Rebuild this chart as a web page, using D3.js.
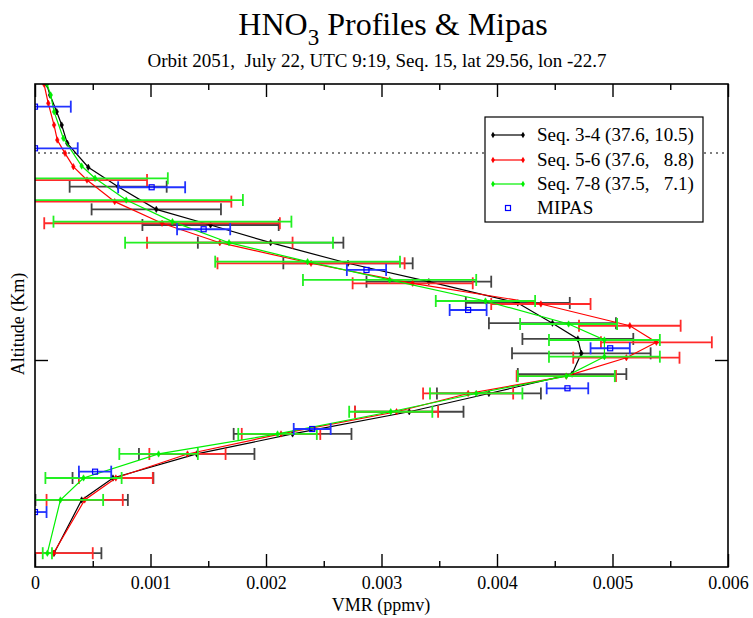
<!DOCTYPE html>
<html><head><meta charset="utf-8">
<script src="https://cdn.jsdelivr.net/npm/d3@7"></script>
<style>
body{margin:0;background:#fff;}
svg text{font-family:"Liberation Serif","Times New Roman",serif;fill:#000;}
</style></head>
<body><svg id="c" width="753" height="618"></svg>
<script>
// ---- data ----
const altBlack = [7.2, 11.83, 13.74, 15.83, 17.57, 19.5, 21.09, 22.78, 24.58, 25.83, 27.2, 28.96, 30.81, 32.41, 34.2, 35.74, 37.1, 39.07, 40.76, 42.84, 44.43, 45.59, 47.04, 48.0];
const vmrBlack = [0.000165, 0.000404, 0.000675, 0.0014, 0.00223, 0.00324, 0.00393, 0.00465, 0.00473, 0.0047, 0.00448, 0.00418, 0.00341, 0.00271, 0.00204, 0.00152, 0.00105, 0.00072, 0.000461, 0.00028, 0.000231, 0.000188, 0.00013, 0.0001];
const errBlack = [0.00041, 0.0004, 0.00035, 0.0005, 0.00051, 0.00047, 0.00045, 0.00047, 0.0006, 0.00048, 0.00055, 0.00045, 0.00054, 0.00056, 0.00063, 0.00059, 0.00056, 0.00042, 0, 0, 0, 0, 0, 0];

const altRed = [7.2, 11.83, 13.74, 15.83, 17.57, 19.5, 21.09, 22.6, 24.2, 25.54, 26.98, 28.87, 30.67, 32.41, 34.2, 35.89, 37.77, 39.65, 40.81, 41.97, 43.13, 44.43, 46.32, 48.0];
const vmrRed = [0.00016, 0.00043, 0.0007, 0.00132, 0.00213, 0.00313, 0.00375, 0.0046, 0.00512, 0.00538, 0.00515, 0.00438, 0.00327, 0.00239, 0.0016, 0.0011, 0.00069, 0.00045, 0.000332, 0.00026, 0.000193, 0.000165, 0.000115, 0.000078];
const errRed = [0.00034, 0.00033, 0.00032, 0.00033, 0.00034, 0.00036, 0.00039, 0.00043, 0.00046, 0.00048, 0.00044, 0.00043, 0.00052, 0.00081, 0.00063, 0.00102, 0.00101, 0.00052, 0, 0, 0, 0, 0, 0];

const altGreen = [7.2, 11.83, 13.74, 15.83, 17.57, 19.5, 21.09, 22.6, 24.29, 25.74, 27.13, 29.13, 30.96, 32.55, 34.2, 36.03, 37.91, 39.8, 40.87, 43.28, 45.59, 47.04, 48.0];
const vmrGreen = [0.000107, 0.00022, 0.00042, 0.00107, 0.0021, 0.00308, 0.00382, 0.0046, 0.00493, 0.00493, 0.00462, 0.0039, 0.00307, 0.00236, 0.00168, 0.00119, 0.00079, 0.00052, 0.000404, 0.000245, 0.000165, 0.000136, 0.000104];
const errGreen = [0.00004, 0.00037, 0.00033, 0.00034, 0.00034, 0.00036, 0.0004, 0.00042, 0.00048, 0.00048, 0.00042, 0.00043, 0.00075, 0.0008, 0.0009, 0.00103, 0.00101, 0.00063, 0, 0, 0, 0, 0];

const altMipas = [10.78, 14.29, 18.0, 21.54, 25.02, 28.35, 31.83, 35.37, 39.02, 42.41, 46.03];
const vmrMipas = [0.0, 0.00052, 0.0024, 0.00461, 0.00498, 0.00375, 0.00287, 0.00146, 0.00101, 0.0, 0.0];
const errMipas = [0.0001, 0.00014, 0.00016, 0.00018, 0.00017, 0.00016, 0.00017, 0.00023, 0.00029, 0.00037, 0.00031];

const seriesNames = ["Seq. 3-4 (37.6, 10.5)", "Seq. 5-6 (37.6,   8.8)", "Seq. 7-8 (37.5,   7.1)", "MIPAS"];
const xMajorTicks = [0, 0.001, 0.002, 0.003, 0.004, 0.005, 0.006];
const xTickLabels = ["0", "0.001", "0.002", "0.003", "0.004", "0.005", "0.006"];
const xMinorTicks = [0.0005, 0.0015, 0.0025, 0.0035, 0.0045, 0.0055];
const yMajorTicks = [24];
const dottedAlt = 42;
const xDomain = [0, 0.006];
const yDomain = [6, 48];

// ---- layout ----
const W = 753, H = 618;
const m = {l: 35, r: 25, t: 84, b: 51};
const pw = W - m.l - m.r, ph = H - m.t - m.b;
const svg = d3.select("#c");
const x = d3.scaleLinear().domain(xDomain).range([m.l, m.l + pw]);
const y = d3.scaleLinear().domain(yDomain).range([m.t + ph, m.t]);

svg.append("defs").append("clipPath").attr("id", "clip")
  .append("rect").attr("x", m.l).attr("y", m.t).attr("width", pw).attr("height", ph);

// title
const title = svg.append("text").attr("x", 393).attr("y", 35).attr("text-anchor", "middle").style("font-size", "32px");
title.append("tspan").text("HNO");
title.append("tspan").attr("dy", 10).style("font-size", "23px").text("3");
title.append("tspan").attr("dy", -10).text(" Profiles & Mipas");
svg.append("text").attr("x", 377).attr("y", 67).attr("text-anchor", "middle").style("font-size", "19px")
  .attr("xml:space", "preserve").style("white-space", "pre")
  .text("Orbit 2051,  July 22, UTC 9:19, Seq. 15, lat 29.56, lon -22.7");

const plot = svg.append("g").attr("clip-path", "url(#clip)");

// dotted line
plot.append("line").attr("x1", x(0) + 3).attr("x2", x(0.006)).attr("y1", y(dottedAlt)).attr("y2", y(dottedAlt))
  .attr("stroke", "#000").attr("stroke-width", 1.2).attr("stroke-dasharray", "2,4");

function drawSeries(alts, vals, errs, color, barColor, withLine) {
  const pts = alts.map((a, i) => ({a, v: vals[i], e: errs[i]}));
  const g = plot.append("g");
  const eb = pts.filter(d => d.e > 0);
  g.selectAll("line.eb").data(eb).join("line")
    .attr("x1", d => x(d.v - d.e)).attr("x2", d => x(d.v + d.e))
    .attr("y1", d => y(d.a)).attr("y2", d => y(d.a))
    .attr("stroke", barColor).attr("stroke-width", 1.8);
  [-1, 1].forEach(s => {
    g.selectAll("line.cap" + (s > 0 ? "p" : "m")).data(eb).join("line")
      .attr("x1", d => x(d.v + s * d.e)).attr("x2", d => x(d.v + s * d.e))
      .attr("y1", d => y(d.a) - 6).attr("y2", d => y(d.a) + 6)
      .attr("stroke", barColor).attr("stroke-width", 1.8);
  });
  if (withLine) {
    g.append("path").datum(pts)
      .attr("d", d3.line().x(d => x(d.v)).y(d => y(d.a)))
      .attr("fill", "none").attr("stroke", color).attr("stroke-width", 1.2);
    g.selectAll("path.mk").data(pts).join("path")
      .attr("transform", d => `translate(${x(d.v)},${y(d.a)})`)
      .attr("d", d3.symbol().type(d3.symbolDiamond).size(12))
      .attr("fill", color).attr("stroke", color).attr("stroke-width", 0.5);
  } else {
    g.selectAll("rect.mk").data(pts).join("rect")
      .attr("x", d => x(d.v) - 2.5).attr("y", d => y(d.a) - 2.5)
      .attr("width", 5).attr("height", 5)
      .attr("fill", "none").attr("stroke", color).attr("stroke-width", 1.2);
  }
}
drawSeries(altBlack, vmrBlack, errBlack, "#000", "#444", true);
drawSeries(altRed, vmrRed, errRed, "#ff0000", "#ff2a2a", true);
drawSeries(altGreen, vmrGreen, errGreen, "#00f000", "#22f022", true);
drawSeries(altMipas, vmrMipas, errMipas, "#0000ff", "#2233ff", false);

// frame
svg.append("rect").attr("x", m.l).attr("y", m.t).attr("width", pw).attr("height", ph)
  .attr("fill", "none").attr("stroke", "#000").attr("stroke-width", 1.6);

// x axes (ticks inward)
const axB = d3.axisBottom(x).tickValues(xMajorTicks).tickSize(-13).tickPadding(9)
  .tickFormat((d, i) => xTickLabels[i]);
const gB = svg.append("g").attr("transform", `translate(0,${m.t + ph})`).call(axB);
gB.select(".domain").remove();
gB.selectAll(".tick line").attr("stroke", "#000").attr("stroke-width", 1.4);
gB.selectAll(".tick text").style("font-size", "18px").style("font-family", "Liberation Serif");
const minorB = svg.append("g").attr("transform", `translate(0,${m.t + ph})`)
  .call(d3.axisBottom(x).tickValues(xMinorTicks).tickSize(-6).tickFormat(""));
minorB.select(".domain").remove();
minorB.selectAll(".tick line").attr("stroke", "#000").attr("stroke-width", 1.4);

const gT = svg.append("g").attr("transform", `translate(0,${m.t})`)
  .call(d3.axisTop(x).tickValues(xMajorTicks).tickSize(-13).tickFormat(""));
gT.select(".domain").remove();
gT.selectAll(".tick line").attr("stroke", "#000").attr("stroke-width", 1.4);
const minorT = svg.append("g").attr("transform", `translate(0,${m.t})`)
  .call(d3.axisTop(x).tickValues(xMinorTicks).tickSize(-6).tickFormat(""));
minorT.select(".domain").remove();
minorT.selectAll(".tick line").attr("stroke", "#000").attr("stroke-width", 1.4);

// y axes
const gL = svg.append("g").attr("transform", `translate(${m.l},0)`)
  .call(d3.axisLeft(y).tickValues(yMajorTicks).tickSize(-13).tickFormat(""));
gL.select(".domain").remove();
gL.selectAll(".tick line").attr("stroke", "#000").attr("stroke-width", 1.4);
const gR = svg.append("g").attr("transform", `translate(${m.l + pw},0)`)
  .call(d3.axisRight(y).tickValues(yMajorTicks).tickSize(-13).tickFormat(""));
gR.select(".domain").remove();
gR.selectAll(".tick line").attr("stroke", "#000").attr("stroke-width", 1.4);

// axis labels
svg.append("text").attr("x", 381).attr("y", 611).attr("text-anchor", "middle").style("font-size", "18px").text("VMR (ppmv)");
svg.append("text").attr("transform", "translate(24,324) rotate(-90)").attr("text-anchor", "middle")
  .style("font-size", "18px").text("Altitude (Km)");

// legend
const lg = svg.append("g");
lg.append("rect").attr("x", 485).attr("y", 117).attr("width", 218).attr("height", 105)
  .attr("fill", "#fff").attr("stroke", "#000").attr("stroke-width", 1.2);
const legColors = ["#000", "#ff0000", "#00f000", "#0000ff"];
const legY = [135, 160, 184, 208];
seriesNames.forEach((name, i) => {
  const yy = legY[i];
  if (i < 3) {
    lg.append("line").attr("x1", 493).attr("x2", 523).attr("y1", yy).attr("y2", yy)
      .attr("stroke", legColors[i]).attr("stroke-width", 1.2);
    [493, 523].forEach(xx => lg.append("path").attr("transform", `translate(${xx},${yy})`)
      .attr("d", d3.symbol().type(d3.symbolDiamond).size(12)).attr("fill", legColors[i]));
  } else {
    lg.append("rect").attr("x", 505.5).attr("y", yy - 2.5).attr("width", 5).attr("height", 5)
      .attr("fill", "none").attr("stroke", legColors[i]).attr("stroke-width", 1.2);
  }
  lg.append("text").attr("x", 537).attr("y", yy + 6).style("font-size", "19px")
    .attr("xml:space", "preserve").style("white-space", "pre").text(name);
});
</script></body></html>
